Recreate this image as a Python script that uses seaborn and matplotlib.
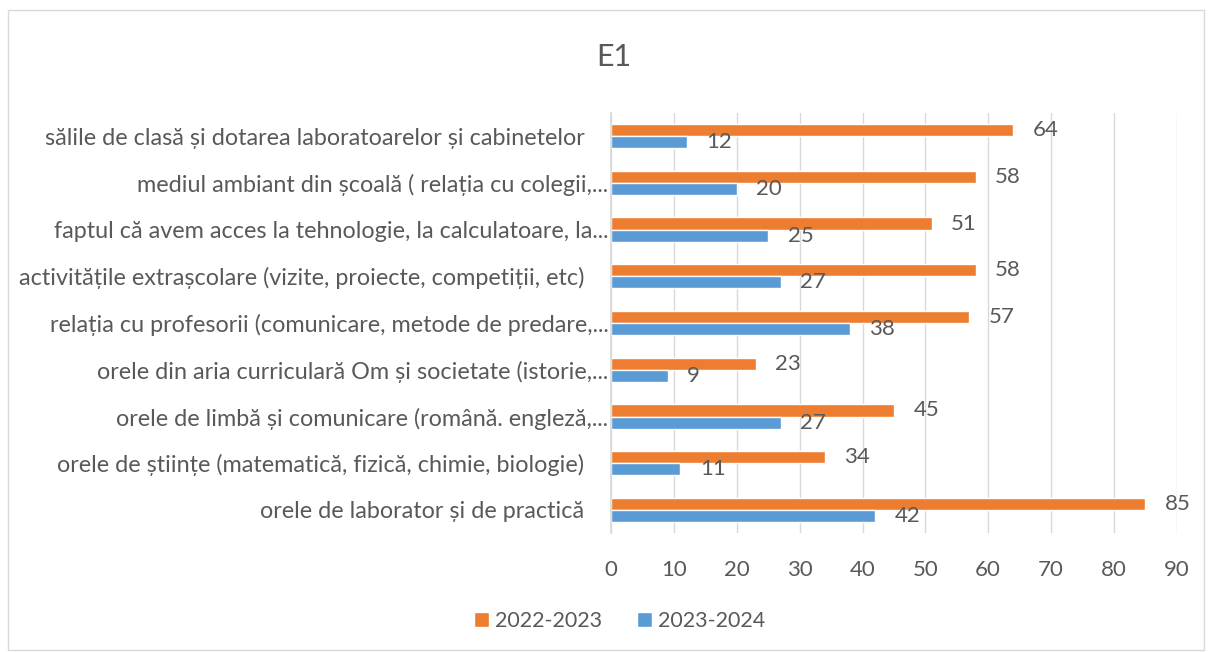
import pandas as pd
import seaborn as sns
import matplotlib.pyplot as plt
from matplotlib.patches import Patch, Rectangle

NB = "\u00a0\u00a0\u00a0\u00a0"
categories = [
    "sălile de clasă și dotarea laboratoarelor și cabinetelor" + NB,
    "mediul ambiant din școală ( relația cu colegii,...",
    "faptul că avem acces la tehnologie, la calculatoare, la...",
    "activitățile extrașcolare (vizite, proiecte, competiții, etc)" + NB,
    "relația cu profesorii (comunicare, metode de predare,...",
    "orele din aria curriculară Om și societate (istorie,...",
    "orele de limbă și comunicare (română. engleză,...",
    "orele de științe (matematică, fizică, chimie, biologie)" + NB,
    "orele de laborator și de practică" + NB,
]
values_2022 = [64, 58, 51, 58, 57, 23, 45, 34, 85]
values_2023 = [12, 20, 25, 27, 38, 9, 27, 11, 42]
series = ["2022-2023", "2023-2024"]
colors = ["#ED7D31", "#5B9BD5"]
text_color = "#595959"

df = pd.DataFrame({
    "category": categories * 2,
    "value": values_2022 + values_2023,
    "series": [series[0]] * len(categories) + [series[1]] * len(categories),
})

sns.set_theme(style="white")
plt.rcParams['font.family'] = ['Lato', 'DejaVu Sans']

fig = plt.figure(figsize=(12.08, 6.52), dpi=100)
ax = fig.add_axes([0.506, 0.182, 0.468, 0.645])

sns.barplot(data=df, y="category", x="value", hue="series", hue_order=series,
            order=categories, palette=colors, orient="h", width=0.52,
            saturation=1, ax=ax, legend=False)

# value labels
for container in ax.containers:
    ax.bar_label(container, padding=14, fontsize=16, color=text_color)

ax.set_xlim(0, 90)
ax.set_xticks(range(0, 91, 10))
ax.set_xlabel("")
ax.set_ylabel("")
ax.tick_params(axis="x", labelsize=16, colors=text_color, length=0, pad=19)
ax.tick_params(axis="y", labelsize=16.8, colors=text_color, length=0, pad=2)
ax.xaxis.grid(True, color="#D9D9D9", linewidth=1)
ax.set_axisbelow(True)
for side in ["top", "right", "bottom"]:
    ax.spines[side].set_visible(False)
ax.spines["left"].set_color("#D9D9D9")

fig.text(0.508, 0.912, "E1", ha="center", va="center", fontsize=22, color=text_color)

handles = [Patch(facecolor=c, label=s) for c, s in zip(colors, series)]
leg = fig.legend(handles=handles, loc="center", bbox_to_anchor=(0.513, 0.048), ncol=2,
                 frameon=False, fontsize=15.5, handlelength=0.7, handleheight=0.7,
                 handletextpad=0.3, columnspacing=1.6)
for t in leg.get_texts():
    t.set_color(text_color)

fig.patches.append(Rectangle((0.007, 0.003), 0.99, 0.982, transform=fig.transFigure,
                             fill=False, edgecolor="#D9D9D9", linewidth=1))

fig.savefig("out.png", dpi=100)
